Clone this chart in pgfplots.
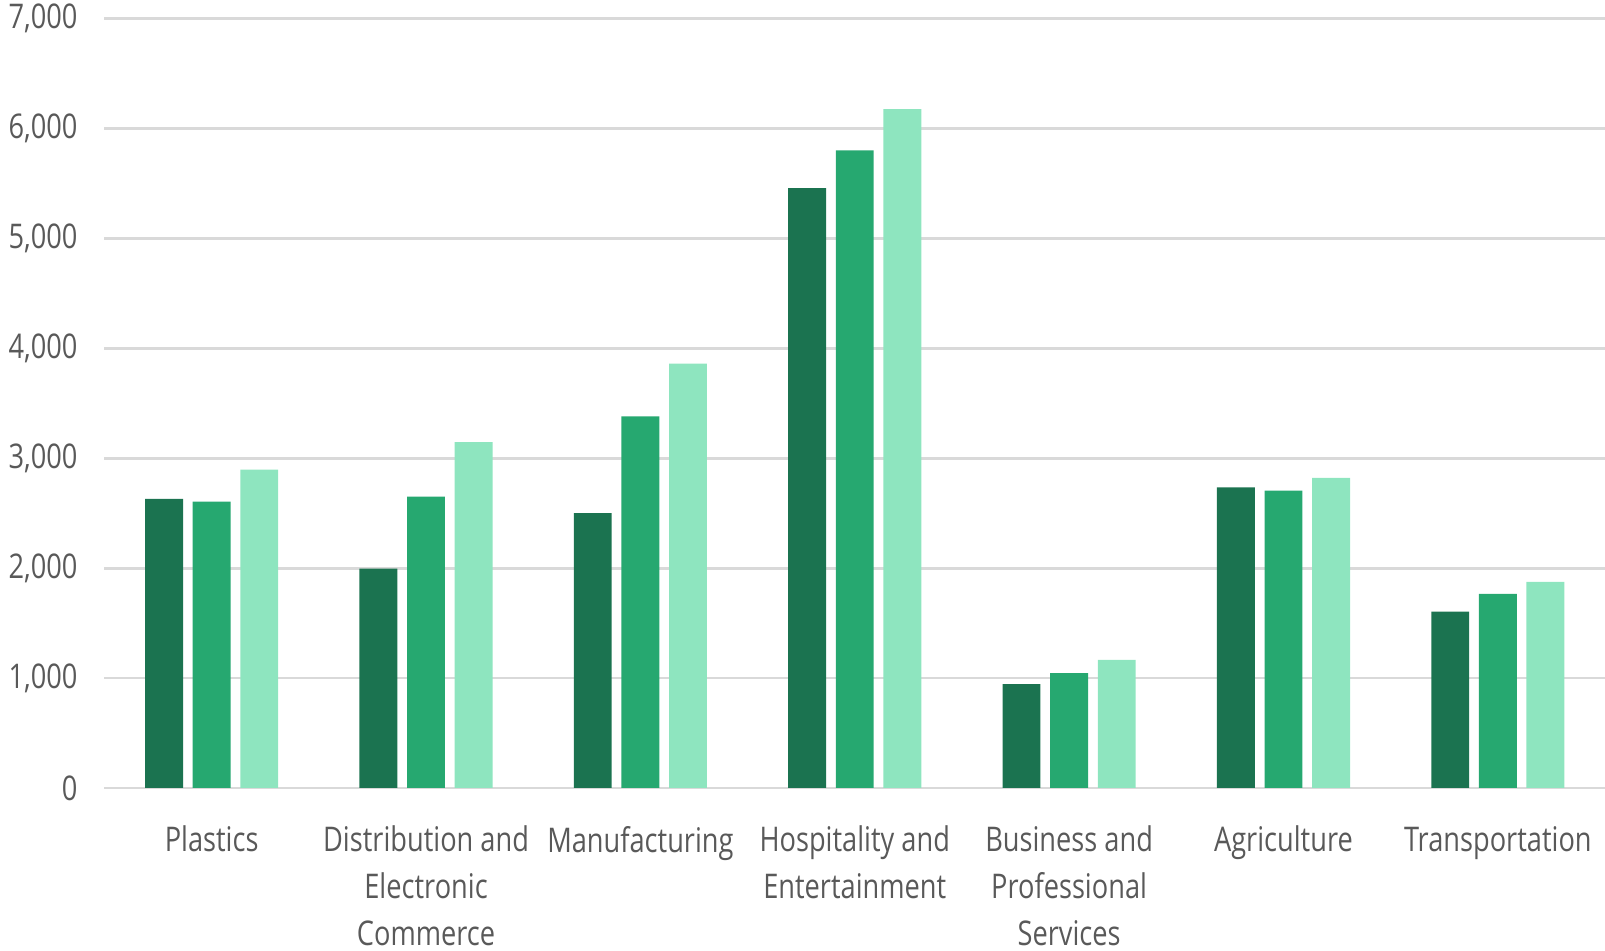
\documentclass[border=0pt]{standalone}
\usepackage{fontspec}
\setmainfont[FakeStretch=0.8]{Open Sans}
\usepackage{pgfplots}
\pgfplotsset{compat=1.18}
\definecolor{gdark}{RGB}{27,115,80}
\definecolor{gmid}{RGB}{38,168,112}
\definecolor{glight}{RGB}{142,229,191}
\definecolor{txt}{RGB}{89,89,89}
\definecolor{gridgray}{RGB}{217,217,217}
\begin{document}
\begin{tikzpicture}
\begin{axis}[
  scale only axis,
  width=750.25pt, height=384.8pt,
  at={(0,0)}, anchor=south west,
  xmin=-0.5, xmax=6.5, ymin=0, ymax=7000,
  ybar, bar width=18.95pt,
  axis line style={draw=none},
  major tick length=0pt,
  ymajorgrids, major grid style={color=gridgray, line width=1.4pt},
  ytick={0,1000,...,7000},
  xtick={0,...,6},
  xticklabels={Plastics,
    Distribution and\\Electronic\\Commerce,
    Manufacturing,
    Hospitality and\\Entertainment,
    Business and\\Professional\\Services,
    Agriculture,
    Transportation},
  /pgf/number format/assume math mode=true,
  /pgf/number format/1000 sep={,},
  ticklabel style={font=\fontsize{17}{23.5}\selectfont, text=txt},
  xticklabel style={align=center, anchor=north, yshift=-15.5pt},
  yticklabel style={anchor=east, xshift=-10pt},
]
% three series, one bar per sector
\addplot[fill=gdark, draw=none, bar shift=-23.8pt] coordinates
  {(0,2630) (1,1995) (2,2500) (3,5455) (4,945) (5,2735) (6,1605)};
\addplot[fill=gmid, draw=none, bar shift=0pt] coordinates
  {(0,2605) (1,2650) (2,3380) (3,5800) (4,1045) (5,2705) (6,1765)};
\addplot[fill=glight, draw=none, bar shift=23.8pt] coordinates
  {(0,2895) (1,3145) (2,3860) (3,6175) (4,1165) (5,2820) (6,1875)};
\end{axis}
\pgfresetboundingbox
\path[use as bounding box] (-52.25pt,-81.5pt) rectangle (750.25pt,394pt);
\end{tikzpicture}
\end{document}
